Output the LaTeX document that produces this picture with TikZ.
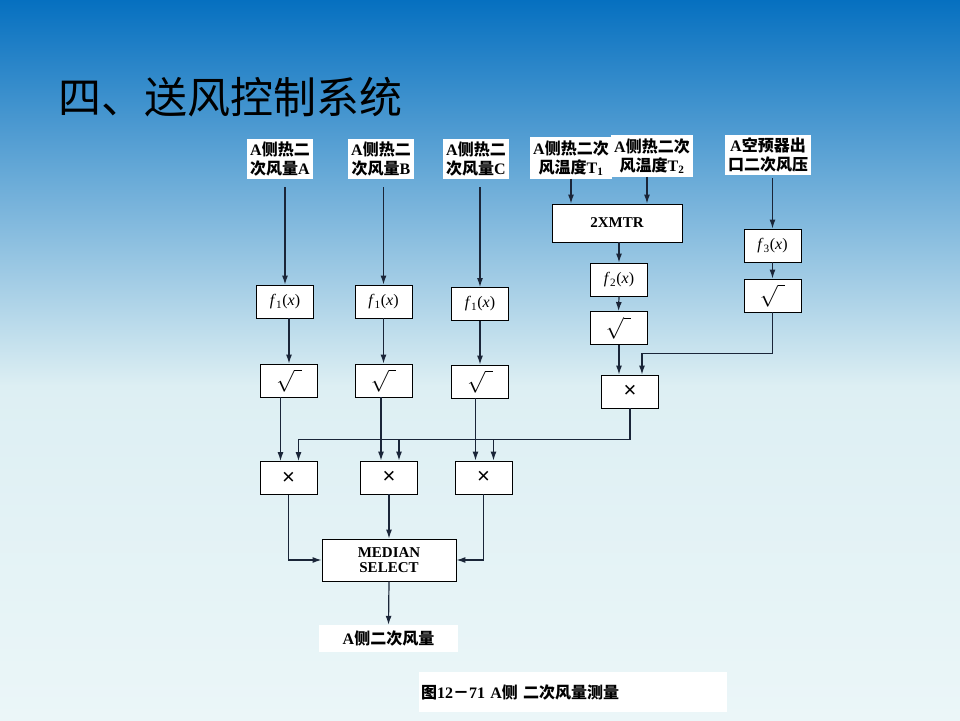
\documentclass[tikz,border=0pt]{standalone}
\usepackage{fontspec}
\setmainfont{Liberation Serif}
\newfontfamily\cjk{Noto Sans CJK SC}
\newfontfamily\lsans{Liberation Sans}
\newcommand{\zh}[1]{{\cjk #1}}
\newcommand{\fx}[1]{\textit{f}\textsubscript{#1}(\textit{x})}
\newcommand{\rt}{\scalebox{1.25}{$\sqrt{\phantom{i}}$}}
\newcommand{\mul}{{\lsans\fontsize{22}{22}\selectfont ×}}
\usepackage{tikz}
\usetikzlibrary{shapes,arrows.meta}
\definecolor{bgtop}{HTML}{0670C0}
\definecolor{bgmid}{HTML}{DDEFF3}
\definecolor{bgbot}{HTML}{EBF6F8}
\definecolor{lnc}{HTML}{1A2538}

\begin{document}
\begin{tikzpicture}[x=1pt,y=-1pt,>={Latex[length=9pt,width=6pt]},
  blk/.style={draw=black,fill=white,line width=0.9pt,inner sep=0pt,
    minimum width=57pt,minimum height=33pt,font=\fontsize{16}{17}\selectfont},
  lbl/.style={fill=white,align=center,inner xsep=3pt,inner ysep=3pt,
    font=\bfseries\fontsize{16}{19}\selectfont},
  con/.style={->,draw=lnc,line width=1.2pt}]
\useasboundingbox (0,0) rectangle (960,720);
\shade[top color=bgtop,bottom color=bgmid] (0,0) rectangle (960,386);
\shade[top color=bgmid,bottom color=bgbot] (0,385) rectangle (960,720);
\node[anchor=west,inner sep=0pt,font=\cjk\fontsize{43}{50}\selectfont] (title) at (58,97) {四、送风控制系统};
% input signals
\node[lbl] (inA) at (280,159) {A\zh{侧热二}\\\zh{次风量}A};
\node[lbl] (inB) at (381,159) {A\zh{侧热二}\\\zh{次风量}B};
\node[lbl] (inC) at (476,159) {A\zh{侧热二}\\\zh{次风量}C};
\node[lbl] (inTb) at (652,156) {A\zh{侧热二次}\\\zh{风温度}T\textsubscript{2}};
\node[lbl] (inTa) at (571,158) {A\zh{侧热二次}\\\zh{风温度}T\textsubscript{1}};
\node[lbl] (inP) at (768,155) {A\zh{空预器出}\\\zh{口二次风压}};
% blocks
\node[blk] (fA) at (285,301.5) {\fx{1}};
\node[blk] (fB) at (383.5,301.5) {\fx{1}};
\node[blk] (fC) at (480,304) {\fx{1}};
\node[blk] (sqA) at (289,380.5) {\rt};
\node[blk] (sqB) at (383.5,380.5) {\rt};
\node[blk] (sqC) at (480,381.5) {\rt};
\node[blk] (mulA) at (288.5,478) {\mul};
\node[blk] (mulB) at (389,477.5) {\mul};
\node[blk] (mulC) at (483.5,477.5) {\mul};
\node[blk,minimum width=130pt,minimum height=38pt,font=\bfseries\fontsize{15}{16}\selectfont] (mtr) at (617,223) {2XMTR};
\node[blk] (fT) at (619,279.5) {\fx{2}};
\node[blk] (sqT) at (618.5,328) {\rt};
\node[blk] (fP) at (772.5,245.5) {\fx{3}};
\node[blk] (sqP) at (772.5,295.5) {\rt};
\node[blk] (mulR) at (630,391.5) {\mul};
\node[blk,minimum width=134pt,minimum height=42pt,align=center,font=\bfseries\fontsize{15}{14.5}\selectfont] (med) at (389,560) {MEDIAN\\SELECT};
\node[fill=white,minimum width=139pt,minimum height=27pt,inner sep=0pt,font=\bfseries\fontsize{16}{19}\selectfont] (res) at (388.5,638.5) {A\zh{侧二次风量}};
\node[fill=white,minimum width=308pt,minimum height=40pt,inner xsep=2pt,text width=304pt,font=\bfseries\fontsize{16}{19}\selectfont] (cap) at (573,692) {\zh{图}12\zh{－}71 A\zh{侧 二次风量测量}};
% connectors
\draw[con,shorten <=8pt] (fA.north |- inA.south) -- (fA.north);
\draw[con,shorten <=8pt] (fB.north |- inB.south) -- (fB.north);
\draw[con,shorten <=8pt] (fC.north |- inC.south) -- (fC.north);
\draw[con] (sqA.north |- fA.south) -- (sqA.north);
\draw[con] (sqB.north |- fB.south) -- (sqB.north);
\draw[con] (sqC.north |- fC.south) -- (sqC.north);
\draw[con] ([xshift=-8pt]mulA.north |- sqA.south) -- ([xshift=-8pt]mulA.north);
\draw[con] ([xshift=-8pt]mulB.north |- sqB.south) -- ([xshift=-8pt]mulB.north);
\draw[con] ([xshift=-8pt]mulC.north |- sqC.south) -- ([xshift=-8pt]mulC.north);
\draw[con] (inTa.south) -- (inTa.south |- mtr.north);
\draw[con] ([xshift=-5pt]inTb.south) -- ([xshift=-5pt]inTb.south |- mtr.north);
\draw[con] (mtr.south -| fT.north) -- (fT.north);
\draw[con] (fT.south) -- (sqT.north);
\draw[con] ([xshift=-11pt]mulR.north |- sqT.south) -- ([xshift=-11pt]mulR.north);
\draw[con,shorten <=3pt] (fP.north |- inP.south) -- (fP.north);
\draw[con] (fP.south) -- (sqP.north);
\draw[con] (sqP.south) -- ++(0,41) -| ([xshift=12pt]mulR.north);
\coordinate (bus) at ([yshift=-31pt]mulR.south);
\draw[con] (mulR.south) -- (bus) -| ([xshift=10pt]mulA.north);
\draw[con] ([xshift=10pt]mulB.north |- bus) -- ([xshift=10pt]mulB.north);
\draw[con] ([xshift=10pt]mulC.north |- bus) -- ([xshift=10pt]mulC.north);
\draw[con] (mulA.south) |- (med.west);
\draw[con] (mulB.south) -- (med.north);
\draw[con] (mulC.south) |- (med.east);
\draw[con] (med.south) -- (res.north);
\end{tikzpicture}
\end{document}
